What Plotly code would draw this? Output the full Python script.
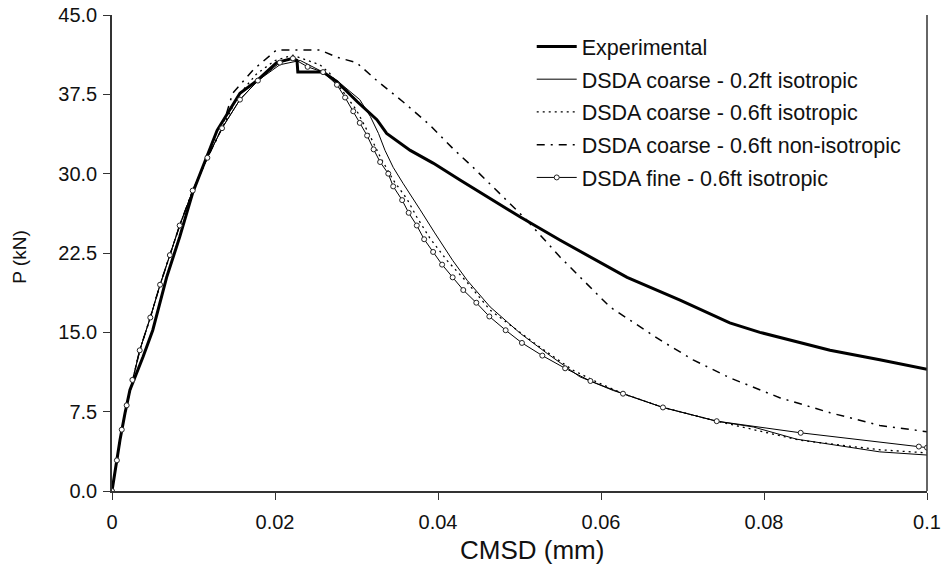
import plotly.graph_objects as go

# Experimental
exp_x = [0, 0.00037, 0.00098, 0.0016, 0.0022, 0.0038, 0.0050, 0.0067, 0.0083, 0.0099, 0.0120,
         0.0129, 0.0157, 0.0178, 0.0202, 0.0222, 0.0227, 0.0228, 0.0240, 0.0259, 0.0276, 0.0301,
         0.0325, 0.0337, 0.0366, 0.0394, 0.0427, 0.0452, 0.0501, 0.0550, 0.0632, 0.0697, 0.0758,
         0.0795, 0.0820, 0.0881, 0.0942, 0.1]
exp_y = [0, 1.98, 4.82, 7.37, 9.55, 12.67, 15.2, 20.2, 24.0, 28.2, 32.2,
         34.1, 37.6, 38.8, 40.5, 40.9, 40.7, 39.6, 39.6, 39.6, 38.7, 36.8,
         35.1, 33.8, 32.2, 31.0, 29.4, 28.2, 25.9, 23.7, 20.2, 18.05, 15.9,
         15.0, 14.5, 13.3, 12.4, 11.5]

# Common rising branch of simulations
rise_x = [0, 0.0006, 0.0012, 0.0018, 0.0025, 0.0034, 0.0047, 0.0059, 0.0071, 0.0083, 0.0099, 0.0117, 0.0135]
rise_y = [0, 2.9, 5.8, 8.1, 10.5, 13.3, 16.4, 19.5, 22.3, 25.1, 28.4, 31.5, 34.3]

# DSDA coarse - 0.2ft isotropic
c02_x = rise_x + [0.0157, 0.0179, 0.0206, 0.0231, 0.0259, 0.0276, 0.0304, 0.0317, 0.0327, 0.0335,
                  0.0345, 0.0357, 0.0369, 0.0378, 0.0396, 0.0418, 0.0436, 0.0464, 0.0501, 0.0534,
                  0.0574, 0.0615, 0.0627, 0.0676, 0.0742, 0.0787, 0.0840, 0.0942, 0.1]
c02_y = rise_y + [37.0, 38.8, 40.3, 40.7, 39.6, 38.8, 37.0, 35.4, 33.8, 32.2,
                  30.6, 29.1, 27.6, 26.6, 24.4, 21.8, 19.9, 17.4, 14.9, 13.0,
                  10.8, 9.5, 9.2, 7.9, 6.6, 6.05, 4.9, 3.7, 3.4]

# DSDA coarse - 0.6ft isotropic
c06_x = rise_x + [0.0155, 0.0177, 0.0200, 0.0222, 0.0255, 0.0267, 0.0300, 0.0317, 0.0329, 0.0345,
                  0.0362, 0.0374, 0.0390, 0.0411, 0.0436, 0.0464, 0.0492, 0.0525, 0.0566, 0.0595,
                  0.0627, 0.0676, 0.0742, 0.0844, 0.0942, 0.1]
c06_y = rise_y + [37.4, 39.4, 40.7, 41.2, 40.3, 39.5, 36.0, 33.5, 31.6, 29.4,
                  27.6, 25.9, 23.9, 21.8, 19.7, 17.1, 15.5, 13.6, 11.4, 10.3,
                  9.2, 7.9, 6.6, 4.8, 3.9, 3.6]

# DSDA coarse - 0.6ft non-isotropic
cni_x = rise_x + [0.0148, 0.0173, 0.0194, 0.0202, 0.0255, 0.0276, 0.0300, 0.0325, 0.0357, 0.0390,
                  0.0418, 0.0443, 0.0509, 0.0550, 0.0611, 0.0672, 0.0713, 0.0758, 0.0820, 0.0881,
                  0.0942, 0.1]
cni_y = rise_y + [37.6, 39.8, 41.2, 41.7, 41.7, 41.0, 40.5, 38.8, 36.8, 34.6,
                  32.4, 30.6, 25.6, 22.1, 17.4, 14.3, 12.4, 10.7, 8.8, 7.4,
                  6.2, 5.6]

# DSDA fine - 0.6ft isotropic
fine_x = rise_x + [0.0157, 0.0179, 0.0206, 0.0222, 0.0240, 0.0259, 0.0276, 0.0286, 0.0296, 0.0304,
                   0.0313, 0.0321, 0.0329, 0.0339, 0.0345, 0.0356, 0.0364, 0.0374, 0.0383, 0.0394,
                   0.0405, 0.0418, 0.0431, 0.0447, 0.0463, 0.0483, 0.0503, 0.0528, 0.0556, 0.0587,
                   0.0627, 0.0676, 0.0742, 0.0845, 0.0990, 0.1]
fine_y = rise_y + [37.0, 38.8, 40.5, 40.9, 40.1, 39.6, 38.4, 37.2, 35.9, 34.8,
                   33.6, 32.3, 31.1, 30.0, 28.8, 27.5, 26.3, 25.1, 23.8, 22.6,
                   21.4, 20.2, 19.0, 17.8, 16.5, 15.2, 14.0, 12.8, 11.6, 10.4,
                   9.2, 7.9, 6.6, 5.5, 4.2, 4.1]

x_ticks = [0, 0.02, 0.04, 0.06, 0.08, 0.1]
y_ticks = [0, 7.5, 15, 22.5, 30, 37.5, 45]

fig = go.Figure()
fig.add_trace(go.Scatter(x=exp_x, y=exp_y, mode="lines", name="Experimental", legendgroup="a",
                         line=dict(color="black", width=3)))
fig.add_trace(go.Scatter(x=c02_x, y=c02_y, mode="lines", name="DSDA coarse - 0.2ft isotropic",
                         legendgroup="b", line=dict(color="black", width=1)))
fig.add_trace(go.Scatter(x=c06_x, y=c06_y, mode="lines", name="DSDA coarse - 0.6ft isotropic",
                         legendgroup="c", line=dict(color="black", width=1.3, dash="2px,4px")))
fig.add_trace(go.Scatter(x=cni_x, y=cni_y, mode="lines", name="DSDA coarse - 0.6ft non-isotropic",
                         legendgroup="d", line=dict(color="black", width=1.5, dash="8px,6px,2px,6px")))
fig.add_trace(go.Scatter(x=fine_x, y=fine_y, mode="lines+markers", name="DSDA fine - 0.6ft isotropic",
                         legendgroup="e", line=dict(color="black", width=1),
                         marker=dict(symbol="circle", size=5, color="white",
                                     line=dict(color="#222", width=1))))

fig.add_shape(type="line", xref="paper", yref="paper", x0=1, x1=1, y0=0, y1=1,
              line=dict(color="#333", width=1.5))

fig.add_annotation(text="CMSD (mm)", xref="paper", yref="paper", x=0.515, y=0, yshift=-59,
                   xanchor="center", yanchor="middle", showarrow=False,
                   font=dict(size=26))
fig.add_annotation(text="P (kN)", xref="paper", yref="paper", x=0, xshift=-92, y=0.49,
                   xanchor="center", yanchor="middle", showarrow=False, textangle=-90,
                   font=dict(size=19))

fig.update_layout(
    width=942, height=569,
    margin=dict(l=112, r=15, t=15, b=78),
    plot_bgcolor="white", paper_bgcolor="white",
    font=dict(family="Liberation Sans, Arial, sans-serif", size=20, color="#111"),
    showlegend=True,
    legend=dict(x=0.515, y=0.977, xanchor="left", yanchor="top",
                bgcolor="rgba(0,0,0,0)", font=dict(size=21.5), tracegroupgap=1.8,
                itemwidth=40),
    xaxis=dict(range=[0, 0.1], tickvals=x_ticks, ticktext=[str(v) for v in x_ticks],
               showgrid=False, zeroline=False, showline=True, linecolor="#333", linewidth=1.5,
               ticks="outside", ticklen=7, tickcolor="#333", automargin=False,
               ticklabelstandoff=5, ticklabeloverflow="allow"),
    yaxis=dict(range=[0, 45], tickvals=y_ticks, ticktext=[f"{v:.1f}" for v in y_ticks],
               showgrid=False, zeroline=False, showline=True, linecolor="#333", linewidth=1.5,
               ticks="outside", ticklen=7, tickcolor="#333", automargin=False,
               ticklabelstandoff=2, ticklabeloverflow="allow"),
)

fig.write_html("out.html", config={"displayModeBar": False},
               post_script="document.body.style.margin='0px';document.body.style.overflow='hidden';")
